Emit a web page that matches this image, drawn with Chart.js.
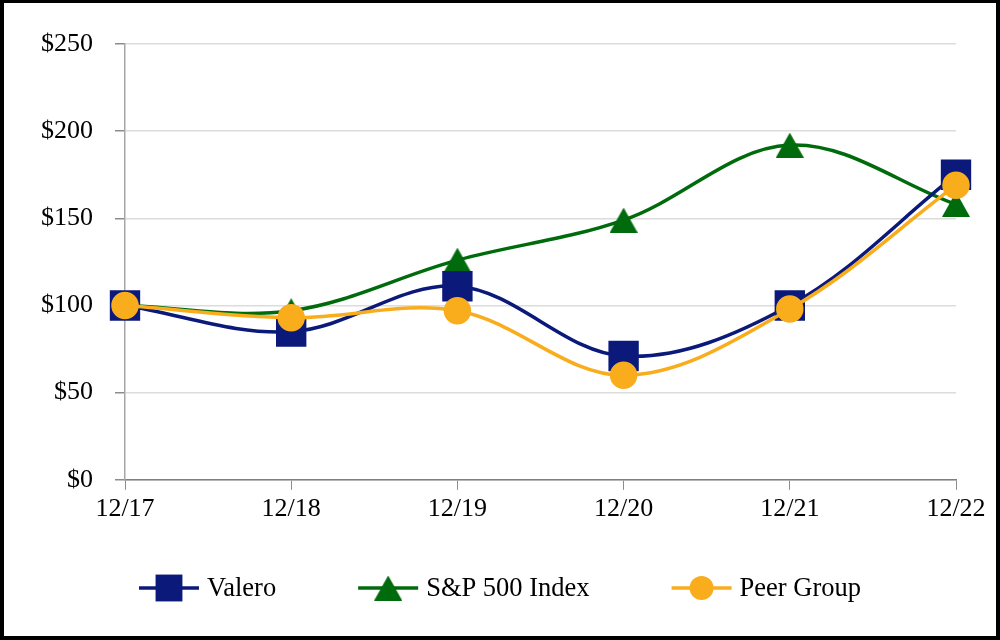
<!DOCTYPE html>
<html>
<head>
<meta charset="utf-8">
<title>Cumulative total return</title>
<script src="https://cdn.jsdelivr.net/npm/chart.js@4.4.0/dist/chart.umd.min.js"></script>
<style>
  html, body { margin: 0; padding: 0; background: #fff; }
  #wrap { position: relative; width: 1000px; height: 640px; }
  #frame {
    position: absolute; left: 0; top: 0; width: 1000px; height: 640px;
    box-sizing: border-box; border: 4px solid #000; border-top-width: 3px;
    pointer-events: none;
  }
  canvas { position: absolute; left: 0; top: 0; }
</style>
</head>
<body>
<div id="wrap">
  <canvas id="tsr" width="1000" height="640"></canvas>
  <div id="frame"></div>
</div>
<script>
const years = ['12/17', '12/18', '12/19', '12/20', '12/21', '12/22'];
const valero = [100, 85, 111, 71, 100, 175];
const sp500 = [100, 97, 126, 149, 192, 158];
const peers = [100, 93, 97, 60, 98, 169];
const yTicks = [0, 50, 100, 150, 200, 250];

const NAVY = '#0b1a7a';
const GREEN = '#006b0c';
const GOLD = '#f9ad1d';
const FONT = '"Liberation Serif", "Times New Roman", serif';

// triangle centred on its bounding box (like the spreadsheet markers)
function triangleMarker(color, w, h) {
    const c = document.createElement('canvas');
    c.width = w;
    c.height = h;
    const g = c.getContext('2d');
    g.fillStyle = color;
    g.beginPath();
    g.moveTo(w / 2, 0);
    g.lineTo(w, h);
    g.lineTo(0, h);
    g.closePath();
    g.fill();
    return c;
}

const triangle = triangleMarker(GREEN, 28, 25);

function drawMarker(ctx, ds, x, y) {
    const style = ds.pointStyle;
    ctx.fillStyle = ds.pointBackgroundColor;
    if (style instanceof HTMLCanvasElement) {
        ctx.drawImage(style, x - style.width / 2, y - style.height / 2);
    } else if (style === 'rect') {
        const s = ds.pointRadius * Math.SQRT2;
        ctx.fillRect(x - s / 2, y - s / 2, s, s);
    } else {
        ctx.beginPath();
        ctx.arc(x, y, ds.pointRadius, 0, Math.PI * 2);
        ctx.fill();
    }
}

// legend row: short line with marker, then label
const legendRow = {
    id: 'legendRow',
    afterDraw(chart) {
        const ctx = chart.ctx;
        const sets = chart.data.datasets;
        const lineLen = 60, gapText = 8, gapItem = 82, y = 588;
        ctx.save();
        ctx.font = '26.5px ' + FONT;
        const widths = sets.map(d => lineLen + gapText + ctx.measureText(d.label).width);
        const total = widths.reduce((a, b) => a + b, 0) + gapItem * (sets.length - 1);
        let x = (chart.width - total) / 2;
        sets.forEach((d, i) => {
            ctx.strokeStyle = d.borderColor;
            ctx.lineWidth = d.borderWidth;
            ctx.beginPath();
            ctx.moveTo(x, y);
            ctx.lineTo(x + lineLen, y);
            ctx.stroke();
            drawMarker(ctx, d, x + lineLen / 2, y);
            ctx.fillStyle = '#000';
            ctx.textBaseline = 'middle';
            ctx.textAlign = 'left';
            ctx.fillText(d.label, x + lineLen + gapText, y + 1);
            x += widths[i] + gapItem;
        });
        ctx.restore();
    }
};

document.addEventListener('DOMContentLoaded', () => {
    const ctx = document.getElementById('tsr');

    new Chart(ctx, {
        type: 'line',
        data: {
            labels: years,
            datasets: [
                {
                    label: 'Valero',
                    data: valero,
                    borderColor: NAVY,
                    backgroundColor: NAVY,
                    pointBackgroundColor: NAVY,
                    pointStyle: 'rect',
                    pointRadius: 19,
                    borderWidth: 3.5,
                    order: 1
                },
                {
                    label: 'S&P 500 Index',
                    data: sp500,
                    borderColor: GREEN,
                    backgroundColor: GREEN,
                    pointBackgroundColor: GREEN,
                    pointStyle: triangle,
                    pointRadius: 14,
                    borderWidth: 3.5,
                    order: 2
                },
                {
                    label: 'Peer Group',
                    data: peers,
                    borderColor: GOLD,
                    backgroundColor: GOLD,
                    pointBackgroundColor: GOLD,
                    pointStyle: 'circle',
                    pointRadius: 12,
                    borderWidth: 3.5,
                    order: 0
                }
            ]
        },
        options: {
            responsive: false,
            animation: false,
            events: [],
            elements: {
                line: { tension: 0.35, fill: false },
                point: { borderWidth: 0, hoverRadius: 0 }
            },
            layout: {
                padding: { left: 19, right: 44, top: 44, bottom: 111 }
            },
            plugins: {
                legend: { display: false },
                tooltip: { enabled: false }
            },
            scales: {
                x: {
                    offset: false,
                    grid: {
                        drawOnChartArea: false,
                        drawTicks: true,
                        tickLength: 10,
                        tickColor: '#8c8c8c'
                    },
                    border: { color: '#7f7f7f', width: 1.5 },
                    ticks: {
                        color: '#000',
                        padding: 4,
                        maxRotation: 0,
                        font: { family: FONT, size: 26 }
                    }
                },
                y: {
                    min: 0,
                    max: 250,
                    afterBuildTicks: (scale) => {
                        scale.ticks = yTicks.map(v => ({ value: v }));
                    },
                    grid: {
                        color: '#dcdcdc',
                        lineWidth: 1.5,
                        drawTicks: true,
                        tickLength: 10,
                        tickColor: '#8c8c8c'
                    },
                    border: { color: '#a6a6a6', width: 1.5 },
                    ticks: {
                        color: '#000',
                        padding: 22,
                        font: { family: FONT, size: 26 },
                        callback: (v) => '$' + v
                    }
                }
            }
        },
        plugins: [legendRow]
    });
});
</script>
</body>
</html>
